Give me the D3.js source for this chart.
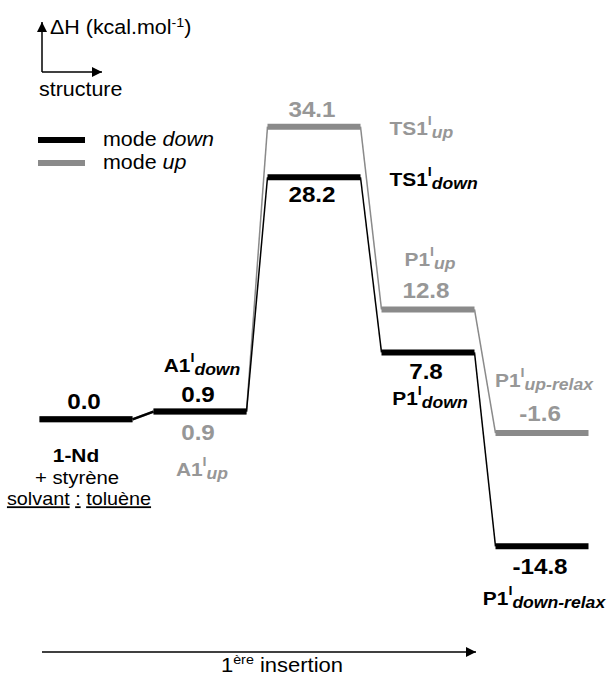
<!DOCTYPE html>
<html lang="fr">
<head>
<meta charset="UTF-8">
<title>Profil énergétique - 1ère insertion</title>
<script src="https://d3js.org/d3.v7.min.js"></script>
<style>
  body { margin: 0; padding: 0; background: #fff; }
  svg { display: block; }
  text { font-family: "Liberation Sans", Arial, Helvetica, sans-serif; white-space: pre; }
</style>
</head>
<body>
<svg id="chart"></svg>
<script>
// --- data ---
const states = ["R", "A1", "TS1", "P1", "P1relax"];
const stateNames = ["1-Nd", "A1", "TS1", "P1", "P1"];
const downValues = [0.0, 0.9, 28.2, 7.8, -14.8];
const upValues = [0.0, 0.9, 34.1, 12.8, -1.6];
const downSubs = ["", "down", "down", "down", "down-relax"];
const upSubs = ["", "up", "up", "up", "up-relax"];
const reactantLines = ["+ styrène"];
const legendModes = ["down", "up"];

const width = 611, height = 675;
const BLACK = "#000", GREY = "#8a8a8a", GREY_TXT = "#979797";
const sx = 1.1; // fonts in the figure are a bit wide

const svg = d3.select("#chart").attr("width", width).attr("height", height);
svg.append("rect").attr("width", width).attr("height", height).attr("fill", "#fff");

const x = d3.scalePoint().domain(states).range([86, 542]);
const y = d3.scaleLinear().domain([-20, 40]).range([591, 76]);
const hw = 46.5;
const fmt = d3.formatLocale({decimal: ".", thousands: ",", grouping: [3], currency: ["", ""], minus: "-"}).format(".1f");

function addText(px, py, size, color, anchor) {
  return svg.append("text")
    .attr("transform", `translate(${px},${py}) scale(${sx},1)`)
    .attr("font-size", size)
    .attr("fill", color)
    .attr("text-anchor", anchor || "middle");
}

function nameLabel(t, base, sub) {
  t.attr("font-weight", "bold");
  t.append("tspan").text(base);
  if (sub) {
    t.append("tspan").attr("font-size", 13).attr("dy", -10).text("I");
    t.append("tspan").attr("font-size", 16).attr("font-style", "italic").attr("dy", 13).text(sub);
  }
}

// arrow marker
const defs = svg.append("defs");
defs.append("marker")
  .attr("id", "arrow")
  .attr("viewBox", "0 0 10 10")
  .attr("refX", 10).attr("refY", 5)
  .attr("markerUnits", "userSpaceOnUse")
  .attr("markerWidth", 16).attr("markerHeight", 10)
  .attr("orient", "auto")
  .append("path").attr("d", "M0,0L10,5L0,10z").attr("fill", "#000");

// --- profile lines ---
function drawMode(values, color) {
  const g = svg.append("g");
  const segs = d3.pairs(values.map((v, i) => ({v, i})));
  g.selectAll("line.conn")
    .data(segs)
    .join("line")
    .attr("x1", d => x(states[d[0].i]) + hw)
    .attr("y1", d => y(d[0].v))
    .attr("x2", d => x(states[d[1].i]) - hw)
    .attr("y2", d => y(d[1].v))
    .attr("stroke", color)
    .attr("stroke-width", d => d[0].i === 0 ? 2.5 : 1.5);
  g.selectAll("line.lvl")
    .data(values)
    .join("line")
    .attr("x1", (d, i) => x(states[i]) - hw)
    .attr("x2", (d, i) => x(states[i]) + hw)
    .attr("y1", d => y(d))
    .attr("y2", d => y(d))
    .attr("stroke", color)
    .attr("stroke-width", 6);
}
drawMode(upValues, GREY);
drawMode(downValues, BLACK);

// --- labels ---
// offsets relative to the level: value label, name label, name to the right
const downLayout = [
  {v: -10, n: null},
  {v: -10, n: -40},
  {v: 25, n: 9, right: true},
  {v: 27, n: 53},
  {v: 28, n: 59}
];
const upLayout = [
  null,
  {v: 28, n: 64},
  {v: -10, n: 8, right: true},
  {v: -11, n: -43},
  {v: -12, n: -46}
];

function drawLabels(values, subs, layout, color) {
  values.forEach((v, i) => {
    const L = layout[i];
    if (!L) return;
    const cx = x(states[i]);
    const ly = y(v);
    addText(cx - 2, ly + L.v, 22, color).attr("font-weight", "bold").text(fmt(v));
    if (L.n !== null) {
      const t = L.right ? addText(cx + hw + 29, ly + L.n, 19, color, "start")
                        : addText(cx + 2, ly + L.n, 19, color);
      nameLabel(t, stateNames[i], subs[i]);
    }
  });
}
drawLabels(upValues, upSubs, upLayout, GREY_TXT);
drawLabels(downValues, downSubs, downLayout, BLACK);

// reactant block under 1-Nd
const r0 = y(downValues[0]);
addText(x(states[0]) - 10, r0 + 43, 19, BLACK).attr("font-weight", "bold").text(stateNames[0]);
reactantLines.forEach((s, k) => addText(x(states[0]) - 9, r0 + 65 + k * 21, 18.5, BLACK).text(s));
const solv = addText(x(states[0]) - 7, r0 + 86, 18, BLACK);
solv.append("tspan").attr("text-decoration", "underline").text("solvant");
solv.append("tspan").text(" ");
solv.append("tspan").attr("text-decoration", "underline").text(":");
solv.append("tspan").text(" ");
solv.append("tspan").attr("text-decoration", "underline").text("toluène");

// --- axes indicator (top left) ---
svg.append("path").attr("d", "M42,72V22").attr("stroke", "#000").attr("stroke-width", 1.5)
  .attr("fill", "none").attr("marker-end", "url(#arrow)");
svg.append("path").attr("d", "M42,72H102").attr("stroke", "#000").attr("stroke-width", 1.5)
  .attr("fill", "none").attr("marker-end", "url(#arrow)");
const dh = addText(50, 34, 19.5, BLACK, "start");
dh.append("tspan").text("ΔH (kcal.mol");
dh.append("tspan").attr("font-size", 13).attr("dy", -7).text("-1");
dh.append("tspan").attr("dy", 7).text(")");
addText(39, 96, 19.5, BLACK, "start").text("structure");

// --- legend ---
const legendColors = [BLACK, GREY];
legendModes.forEach((m, k) => {
  const ly = 140 + k * 23;
  svg.append("line").attr("x1", 38).attr("x2", 85).attr("y1", ly).attr("y2", ly)
    .attr("stroke", legendColors[k]).attr("stroke-width", 6);
  const t = addText(103, ly + 6, 19.5, BLACK, "start");
  t.append("tspan").text("mode ");
  t.append("tspan").attr("font-style", "italic").text(m);
});

// --- bottom reaction coordinate arrow ---
svg.append("path").attr("d", "M42,652H476").attr("stroke", "#000").attr("stroke-width", 1.5)
  .attr("fill", "none").attr("marker-end", "url(#arrow)");
const bt = addText(282, 672, 20, BLACK);
bt.append("tspan").text("1");
bt.append("tspan").attr("font-size", 13).attr("dy", -8).text("ère");
bt.append("tspan").attr("dy", 8).text(" insertion");
</script>
</body>
</html>
